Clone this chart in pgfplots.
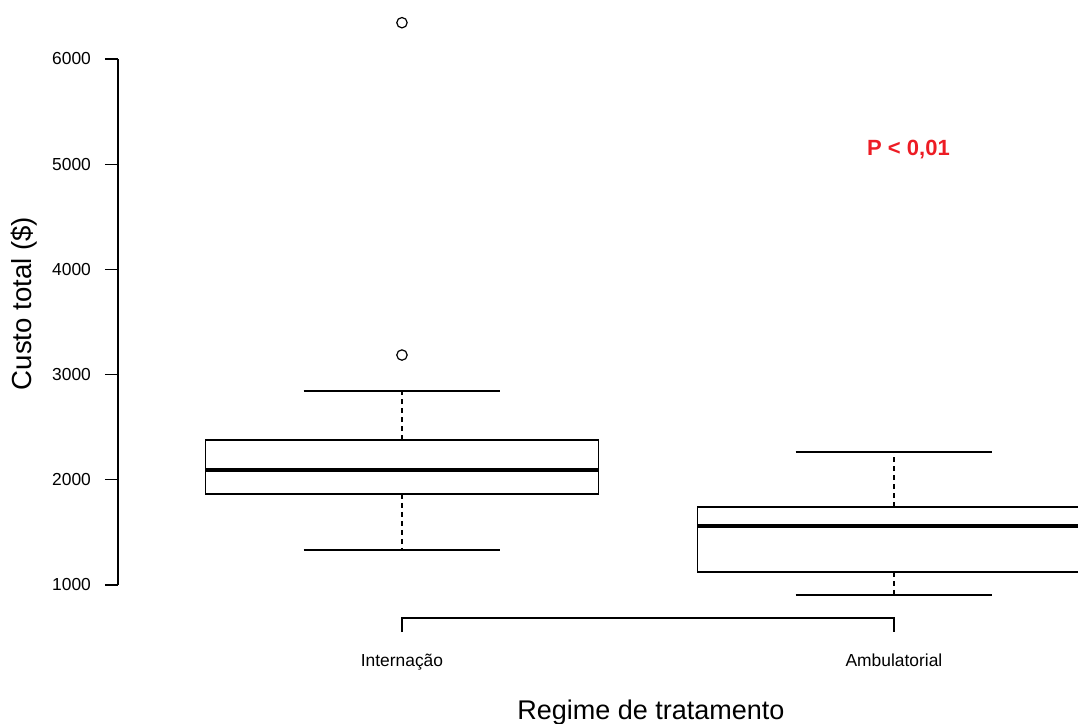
\documentclass[border=0pt]{standalone}
\usepackage{fontspec}
\setmainfont{Liberation Sans}
\usepackage{pgfplots}
\pgfplotsset{compat=1.18}
\definecolor{pred}{RGB}{237,28,36}
\begin{document}
\begin{tikzpicture}
\begin{axis}[
  scale only axis, width=480pt, height=263pt,
  xmin=0.4228, xmax=2.374, ymin=1000, ymax=6000,
  clip=false,
  axis y line*=left, axis x line*=bottom,
  x axis line style={draw=none},
  y axis line style={-, line width=0.6pt},
  ytick={1000,2000,3000,4000,5000,6000},
  xtick=\empty,
  yticklabel style={font=\fontsize{8.7}{10}\selectfont, anchor=east, xshift=-3.5pt},
  /pgf/number format/assume math mode=true,
  /pgf/number format/1000 sep={},
  tick align=outside, major tick length=6.5pt,
  tick style={black, line width=0.6pt},
]
\coordinate (bbSW) at (axis cs:0.1830,-321.3);
\coordinate (bbNE) at (axis cs:2.374,6560.8);

% Internacao: whiskers 1333/2844, quartiles 1865/2378, median 2093
\addplot[black, line width=0.6pt] coordinates {(0.6,1865) (1.4,1865) (1.4,2378) (0.6,2378) (0.6,1865)};
\addplot[black, line width=1.8pt] coordinates {(0.6,2093) (1.4,2093)};
\addplot[black, line width=0.6pt, dash pattern=on 2.5pt off 2pt] coordinates {(1,2378) (1,2844)};
\addplot[black, line width=0.6pt, dash pattern=on 2.5pt off 2pt] coordinates {(1,1865) (1,1333)};
\addplot[black, line width=0.6pt] coordinates {(0.8,2844) (1.2,2844)};
\addplot[black, line width=0.6pt] coordinates {(0.8,1333) (1.2,1333)};
\addplot[black, line width=0.6pt, only marks, mark=o, mark size=2.6pt] coordinates {(1,3186) (1,6345)};

% Ambulatorial: whiskers 905/2264, quartiles 1124/1741, median 1561
\addplot[black, line width=0.6pt] coordinates {(2.45,1124) (1.6,1124) (1.6,1741) (2.45,1741)};
\addplot[black, line width=1.8pt] coordinates {(1.6,1561) (2.45,1561)};
\addplot[black, line width=0.6pt, dash pattern=on 2.5pt off 2pt] coordinates {(2,1741) (2,2264)};
\addplot[black, line width=0.6pt, dash pattern=on 2.5pt off 2pt] coordinates {(2,1124) (2,905)};
\addplot[black, line width=0.6pt] coordinates {(1.8,2264) (2.2,2264)};
\addplot[black, line width=0.6pt] coordinates {(1.8,905) (2.2,905)};

% R-style x axis
\addplot[black, line width=0.6pt] coordinates {(1,553) (1,686.3) (2,686.3) (2,553)};

\node[anchor=base, font=\fontsize{8.7}{10}\selectfont] at (axis cs:1,220.5) {Internação};
\node[anchor=base, font=\fontsize{8.7}{10}\selectfont] at (axis cs:2,220.5) {Ambulatorial};
\node[anchor=base, font=\fontsize{13.5}{16}\selectfont] at (axis cs:1.506,-283) {Regime de tratamento};
\node[rotate=90, font=\fontsize{13.8}{16}\selectfont] at (axis cs:0.2317,3676) {Custo total (\$)};
\node[anchor=base, font=\bfseries\fontsize{11}{13}\selectfont, text=pred] at (axis cs:2.0295,5078) {P < 0,01};
\end{axis}
\pgfresetboundingbox
\useasboundingbox (bbSW) rectangle (bbNE);
\end{tikzpicture}
\end{document}
